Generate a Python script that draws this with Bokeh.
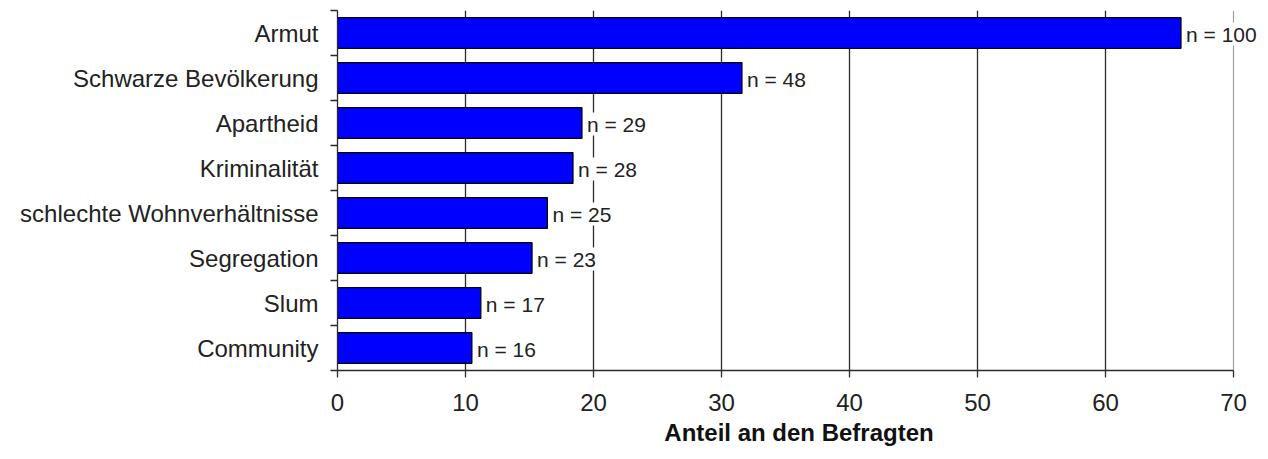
from bokeh.plotting import figure
from bokeh.models import Range1d, FixedTicker, ColumnDataSource, LabelSet, Grid
from bokeh.core.properties import value
from bokeh.embed import file_html
from bokeh.resources import INLINE

categories = ["Armut", "Schwarze Bevölkerung", "Apartheid", "Kriminalität",
              "schlechte Wohnverhältnisse", "Segregation", "Slum", "Community"]
shares = [65.9, 31.6, 19.1, 18.4, 16.4, 15.2, 11.2, 10.5]
counts = [100, 48, 29, 28, 25, 23, 17, 16]
x_ticks = [0, 10, 20, 30, 40, 50, 60, 70]
x_label = "Anteil an den Befragten"

n = len(categories)
ypos = [n - 1 - i for i in range(n)]
labels = ["n = %d" % c for c in counts]
src = ColumnDataSource(dict(y=ypos, v=shares, cat=categories, lab=labels))

FONT = "Liberation Sans"
W, H = 1260, 451
LEFT, TOP, BOTTOM = 337, 10, H - 370
xmax = x_ticks[-1]
px_per_unit = (1233 - LEFT) / xmax
x_end = (W - LEFT) / px_per_unit

p = figure(width=W, height=H, output_backend="svg", toolbar_location=None,
           x_range=Range1d(0, x_end), y_range=Range1d(-0.5, n - 0.5))
p.min_border_left = LEFT
p.min_border_right = 0
p.min_border_top = TOP
p.min_border_bottom = BOTTOM
p.outline_line_color = None
p.background_fill_color = "white"

# grids
p.xgrid.ticker = FixedTicker(ticks=x_ticks[1:-1])
p.xgrid.grid_line_color = "#2a2a2a"
p.xgrid.grid_line_width = 1.3
p.ygrid.grid_line_color = None
p.add_layout(Grid(dimension=0, ticker=FixedTicker(ticks=[xmax]),
                  grid_line_color="#a0a0a0", grid_line_width=1.2))
p.add_layout(Grid(dimension=1, ticker=FixedTicker(ticks=[n - 0.5]), bounds=(0, xmax),
                  grid_line_color="#a0a0a0", grid_line_width=1.2))

p.hbar(y="y", right="v", left=0, height=0.68, source=src,
       fill_color="#0000ff", line_color="#000000", line_width=1.2)

lbl = LabelSet(x="v", y="y", text="lab", source=src, x_offset=5, y_offset=-1,
               text_baseline="middle", text_align="left",
               text_font=value(FONT), text_font_size=value("21px"), text_color="#222222",
               background_fill_color="white")
p.add_layout(lbl)

# x axis
xa = p.xaxis[0]
xa.ticker = FixedTicker(ticks=x_ticks)
xa.bounds = (0, xmax)
xa.axis_line_color = "#2a2a2a"
xa.axis_line_width = 1.3
xa.major_tick_line_color = "#2a2a2a"
xa.major_tick_line_width = 1.3
xa.major_tick_out = 7
xa.major_tick_in = 0
xa.minor_tick_line_color = None
xa.major_label_text_font = FONT
xa.major_label_text_font_size = "24px"
xa.major_label_text_color = "#222222"
xa.major_label_standoff = 16
xa.axis_label = x_label
xa.axis_label_text_font = FONT
xa.axis_label_text_font_style = "bold"
xa.axis_label_text_font_size = "24px"
xa.axis_label_text_color = "#111111"
xa.axis_label_standoff = 5

# y axis
ya = p.yaxis[0]
ya.ticker = FixedTicker(ticks=ypos, minor_ticks=[y - 0.5 for y in range(n + 1)])
ya.major_label_overrides = {y: c for y, c in zip(ypos, categories)}
ya.axis_line_color = "#2a2a2a"
ya.axis_line_width = 1.3
ya.major_tick_out = 0
ya.major_tick_in = 0
ya.minor_tick_line_color = "#2a2a2a"
ya.minor_tick_line_width = 1.3
ya.minor_tick_out = 7
ya.minor_tick_in = 0
ya.major_label_text_font = FONT
ya.major_label_text_font_size = "24px"
ya.major_label_text_color = "#222222"
ya.major_label_standoff = 12

open("out.html", "w").write(file_html(p, INLINE))
